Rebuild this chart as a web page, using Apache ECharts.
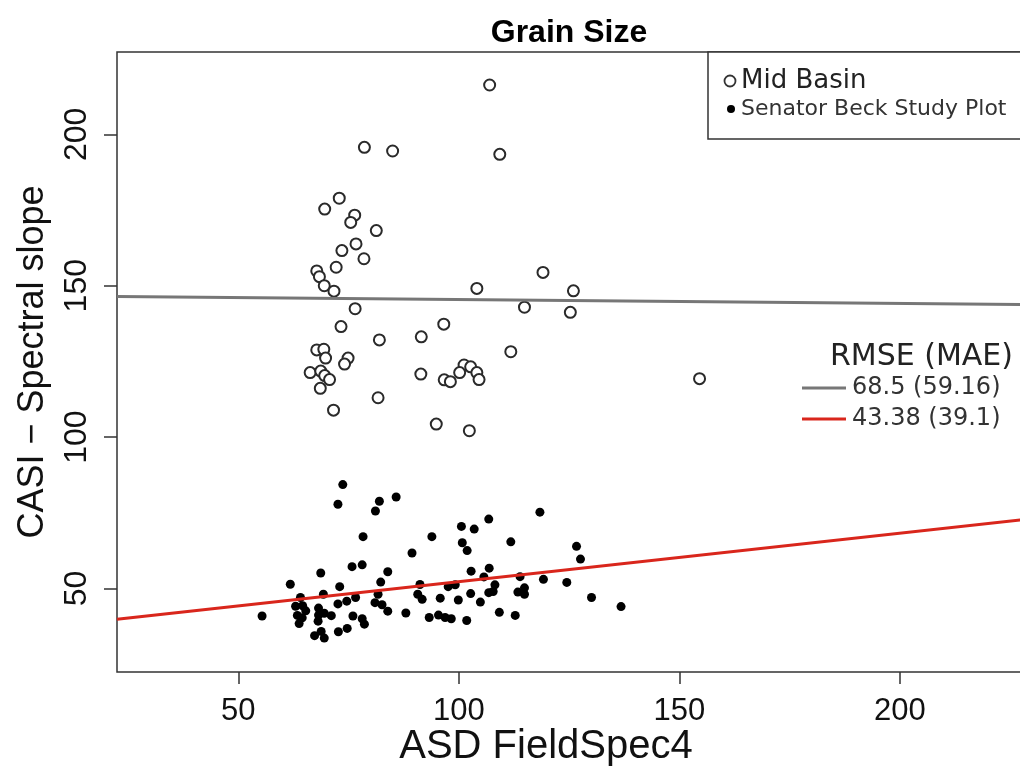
<!DOCTYPE html>
<html>
<head>
<meta charset="utf-8">
<title>Grain Size</title>
<script src="https://cdn.jsdelivr.net/npm/echarts@6/dist/echarts.min.js"></script>
<style>
  html, body { margin: 0; padding: 0; background: #fff; }
  #chart { width: 1020px; height: 768px; }
</style>
</head>
<body>
<div id="chart"></div>
<script>
// Mid Basin (open circles): [ASD FieldSpec4, CASI spectral slope]
var midBasin = [
  [107.0, 216.3], [78.6, 195.7], [85.0, 194.5], [109.3, 193.4], [72.9, 178.9],
  [69.6, 175.3], [76.4, 173.3], [75.5, 170.9], [81.3, 168.2], [76.7, 163.8],
  [73.5, 161.6], [78.5, 158.9], [67.8, 154.9], [68.4, 153.0], [72.2, 156.1],
  [69.5, 150.0], [71.7, 148.2], [119.1, 154.4], [104.1, 149.1], [76.5, 142.4],
  [114.9, 142.9], [96.6, 137.3], [73.3, 136.5], [82.0, 132.1], [91.5, 133.1],
  [111.8, 128.2], [67.8, 128.8], [69.4, 129.0], [69.8, 126.1], [74.9, 126.1],
  [74.1, 124.1], [66.3, 121.3], [68.7, 121.8], [69.6, 120.3], [70.7, 119.0],
  [68.6, 116.1], [91.4, 120.8], [101.2, 123.8], [102.7, 123.2], [100.2, 121.3],
  [104.1, 121.3], [96.7, 118.9], [98.1, 118.3], [104.6, 119.0], [81.7, 113.0],
  [71.6, 108.9], [94.9, 104.3], [102.4, 102.1], [126.0, 148.3], [125.3, 141.2],
  [154.6, 119.3]
];

// Senator Beck Study Plot (filled dots)
var senatorBeck = [
  [73.7, 84.3], [72.6, 77.8], [82.0, 78.8], [81.1, 75.6], [85.8, 80.2],
  [78.3, 67.1], [93.9, 67.1], [89.4, 61.7], [75.8, 57.2], [78.1, 57.8],
  [83.9, 55.5], [68.7, 55.1], [82.3, 52.1], [61.8, 51.4], [73.0, 50.6],
  [91.2, 51.3], [97.6, 50.6], [64.1, 47.0], [69.3, 48.1], [81.7, 48.1],
  [76.6, 47.0], [74.6, 45.8], [90.7, 48.1], [91.7, 46.4], [95.8, 46.8],
  [63.0, 44.1], [64.6, 44.3], [65.3, 42.6], [68.2, 43.5], [72.6, 44.9],
  [81.0, 45.3], [82.6, 44.6], [83.9, 42.5], [55.4, 40.9], [63.4, 41.1],
  [64.5, 40.3], [63.8, 38.4], [68.2, 41.2], [69.5, 41.8], [71.1, 41.0],
  [76.0, 40.9], [78.1, 40.0], [88.0, 41.9], [93.3, 40.4], [95.4, 41.2],
  [96.9, 40.4], [68.1, 39.2], [78.6, 38.2], [67.3, 34.4], [68.8, 35.8],
  [69.5, 33.6], [72.7, 35.7], [74.7, 36.8], [100.6, 70.5], [103.5, 69.6],
  [106.8, 72.9], [100.8, 65.1], [101.9, 62.5], [111.8, 65.4], [118.4, 75.2],
  [126.7, 63.9], [127.6, 59.7], [102.8, 55.7], [106.9, 56.7], [105.7, 53.8],
  [108.2, 51.2], [113.9, 53.9], [119.2, 53.0], [124.5, 52.0], [99.2, 51.2],
  [99.9, 46.2], [102.7, 48.3], [104.9, 45.5], [106.8, 48.6], [107.8, 49.0],
  [113.4, 48.8], [114.9, 50.2], [114.9, 48.1], [130.1, 47.0], [136.8, 44.0],
  [98.3, 40.0], [101.8, 39.4], [109.2, 42.1], [112.8, 41.1]
];

// fitted lines, end points in data units
var midFit = [[22.5, 146.4], [228.5, 143.8]];
var beckFit = [[22.5, 39.8], [228.5, 72.8]];

var xTicks = [50, 100, 150, 200];
var yTicks = [50, 100, 150, 200];
var rmseTitle = 'RMSE (MAE)';
var rmseLabels = ['68.5 (59.16)', '43.38 (39.1)'];

var myChart = echarts.init(document.getElementById('chart'), null, {renderer: 'canvas'});

var option = {
  animation: false,
  backgroundColor: '#fff',
  title: {
    text: 'Grain Size',
    left: 564,
    top: 12,
    textAlign: 'center',
    textStyle: {
      fontFamily: 'Liberation Sans',
      fontWeight: 'bold',
      fontSize: 32,
      color: '#000'
    }
  },
  grid: {
    left: 117, right: -5, top: 52, bottom: 96,
    outerBoundsMode: 'none',
    containLabel: false,
    show: true,
    borderColor: '#333',
    borderWidth: 1.5,
    backgroundColor: 'transparent'
  },
  xAxis: {
    type: 'value',
    min: 22.5,
    max: 228.4,
    name: 'ASD FieldSpec4',
    nameLocation: 'middle',
    nameGap: 55,
    nameMoveOverlap: false,
    nameTextStyle: {
      fontFamily: 'Liberation Sans',
      fontSize: 40,
      color: '#111',
      padding: [0, 50, 0, 0]
    },
    axisLine: { show: false },
    axisTick: {
      show: true, inside: false, length: 12,
      customValues: xTicks,
      lineStyle: { color: '#333', width: 1.5 }
    },
    axisLabel: {
      customValues: xTicks,
      margin: 24,
      fontFamily: 'Liberation Sans',
      fontSize: 31,
      color: '#111'
    },
    splitLine: { show: false }
  },
  yAxis: {
    type: 'value',
    min: 22.4,
    max: 227.2,
    name: 'CASI \u2212 Spectral slope',
    nameLocation: 'middle',
    nameGap: 66,
    nameMoveOverlap: false,
    nameTextStyle: {
      fontFamily: 'Liberation Sans',
      fontSize: 36,
      color: '#111'
    },
    axisLine: { show: false },
    axisTick: {
      show: true, inside: false, length: 13,
      customValues: yTicks,
      lineStyle: { color: '#333', width: 1.5 }
    },
    axisLabel: {
      customValues: yTicks,
      rotate: 90,
      margin: 24,
      fontFamily: 'Liberation Sans',
      fontSize: 32,
      color: '#111'
    },
    splitLine: { show: false }
  },
  series: [
    {
      name: 'Mid Basin',
      type: 'scatter',
      data: midBasin,
      symbol: 'circle',
      symbolSize: 11,
      itemStyle: { color: '#fff', borderColor: '#2a2a2a', borderWidth: 2, opacity: 1 },
      z: 3
    },
    {
      name: 'Senator Beck Study Plot',
      type: 'scatter',
      data: senatorBeck,
      symbol: 'circle',
      symbolSize: 9,
      itemStyle: { color: '#000', opacity: 1 },
      z: 3
    },
    {
      name: 'Mid Basin fit',
      type: 'line',
      data: midFit,
      showSymbol: false,
      lineStyle: { color: '#777', width: 3 },
      z: 4
    },
    {
      name: 'Senator Beck fit',
      type: 'line',
      data: beckFit,
      showSymbol: false,
      lineStyle: { color: '#d9261c', width: 3 },
      z: 4
    }
  ],
  graphic: [
    // legend box
    {
      type: 'rect',
      shape: { x: 708, y: 52, width: 330, height: 87 },
      style: { fill: '#fff', stroke: '#333', lineWidth: 1.5 },
      z: 10
    },
    {
      type: 'circle',
      shape: { cx: 730, cy: 81, r: 5.5 },
      style: { fill: '#fff', stroke: '#333', lineWidth: 1.8 },
      z: 11
    },
    {
      type: 'text',
      x: 741, y: 81,
      style: {
        text: 'Mid Basin',
        fontFamily: 'DejaVu Sans',
        fontSize: 26,
        fill: '#222',
        verticalAlign: 'middle'
      },
      z: 11
    },
    {
      type: 'circle',
      shape: { cx: 731, cy: 109, r: 4 },
      style: { fill: '#000' },
      z: 11
    },
    {
      type: 'text',
      x: 741, y: 109,
      style: {
        text: 'Senator Beck Study Plot',
        fontFamily: 'DejaVu Sans',
        fontSize: 22,
        fill: '#333',
        verticalAlign: 'middle'
      },
      z: 11
    },
    // RMSE (MAE) key
    {
      type: 'text',
      x: 830, y: 357,
      style: {
        text: rmseTitle,
        fontFamily: 'DejaVu Sans',
        fontSize: 30,
        fill: '#222',
        verticalAlign: 'middle'
      },
      z: 11
    },
    {
      type: 'line',
      shape: { x1: 802, y1: 388, x2: 846, y2: 388 },
      style: { stroke: '#777', lineWidth: 3 },
      z: 11
    },
    {
      type: 'text',
      x: 852, y: 388,
      style: {
        text: rmseLabels[0],
        fontFamily: 'DejaVu Sans',
        fontSize: 24,
        fill: '#333',
        verticalAlign: 'middle'
      },
      z: 11
    },
    {
      type: 'line',
      shape: { x1: 802, y1: 419, x2: 846, y2: 419 },
      style: { stroke: '#d9261c', lineWidth: 3 },
      z: 11
    },
    {
      type: 'text',
      x: 852, y: 419,
      style: {
        text: rmseLabels[1],
        fontFamily: 'DejaVu Sans',
        fontSize: 24,
        fill: '#333',
        verticalAlign: 'middle'
      },
      z: 11
    }
  ]
};

myChart.setOption(option);
</script>
</body>
</html>
